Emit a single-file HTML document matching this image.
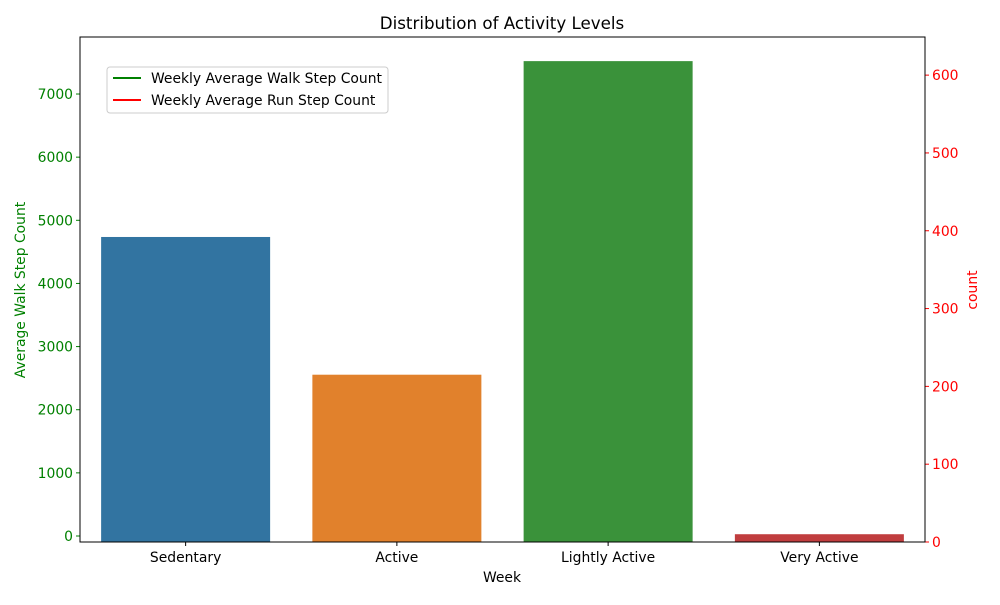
<!DOCTYPE html>
<html><head><meta charset="utf-8"><style>
body{margin:0;background:#fff;font-family:"Liberation Sans","DejaVu Sans",sans-serif}
</style></head><body>
<svg id="chart" width="1000" height="600" xmlns="http://www.w3.org/2000/svg" font-family="'DejaVu Sans','Liberation Sans',sans-serif"></svg>
<script>
const categories=["Sedentary","Active","Lightly Active","Very Active"];
const counts=[392,215,618,10];
const colors=["#3274a1","#e1812c","#3a923a","#c03d3e"];
const leftTicks=[0,1000,2000,3000,4000,5000,6000,7000];
const rightTicks=[0,100,200,300,400,500,600];
const L=80,R=925,T=37,B=542;
const yR=v=>B-(v/649)*(B-T);
const lMin=-95,lMax=7903;
const yL=v=>B-(v-lMin)/(lMax-lMin)*(B-T);
const step=(R-L)/categories.length;
const xC=i=>L+step*(i+0.5);
const svg=document.getElementById('chart');
const NS="http://www.w3.org/2000/svg";
function mk(t,a,txt){const e=document.createElementNS(NS,t);for(const k in a)e.setAttribute(k,a[k]);if(txt!=null)e.textContent=txt;svg.appendChild(e);return e;}
categories.forEach((c,i)=>{
 const w=step*0.8;
 const r=mk('rect',{x:xC(i)-w/2,y:yR(counts[i]),width:w,height:B-yR(counts[i]),fill:colors[i]});
 
 
 mk('line',{x1:xC(i),x2:xC(i),y1:B,y2:B+4,stroke:'#000'});
 const t=mk('text',{x:xC(i),y:B+20,'text-anchor':'middle','font-size':13.9},c);
 
 
});
leftTicks.forEach(v=>{
 mk('line',{x1:L-4,x2:L,y1:yL(v),y2:yL(v),stroke:'green'});
 const t=mk('text',{x:L-7,y:yL(v)+5,'text-anchor':'end','font-size':13.9,fill:'green'},v);
 
 
});
rightTicks.forEach(v=>{
 mk('line',{x1:R,x2:R+4,y1:yR(v),y2:yR(v),stroke:'red'});
 const t=mk('text',{x:R+7,y:yR(v)+5,'font-size':13.9,fill:'red'},v);
 
 
});
mk('rect',{x:L,y:T,width:R-L,height:B-T,fill:'none',stroke:'#000'});
</script>
<svg style="position:absolute;left:0;top:0" width="1000" height="600" font-family="'DejaVu Sans','Liberation Sans',sans-serif">
<text x="502" y="29" text-anchor="middle" font-size="16.7">Distribution of Activity Levels</text>
<text x="502" y="582" text-anchor="middle" font-size="13.9">Week</text>
<text transform="translate(25,290) rotate(-90)" text-anchor="middle" font-size="13.9" fill="green">Average Walk Step Count</text>
<text transform="translate(977,290) rotate(-90)" text-anchor="middle" font-size="13.9" fill="red">count</text>
<g>
<rect x="107" y="67" width="281" height="46" rx="3" fill="#fff" stroke="#ccc"/>
<line x1="113" x2="141" y1="78" y2="78" stroke="green" stroke-width="2"/>
<text x="151" y="83" font-size="13.9">Weekly Average Walk Step Count</text>
<line x1="113" x2="141" y1="100" y2="100" stroke="red" stroke-width="2"/>
<text x="151" y="105" font-size="13.9">Weekly Average Run Step Count</text>
</g>
</svg>
</body></html>
